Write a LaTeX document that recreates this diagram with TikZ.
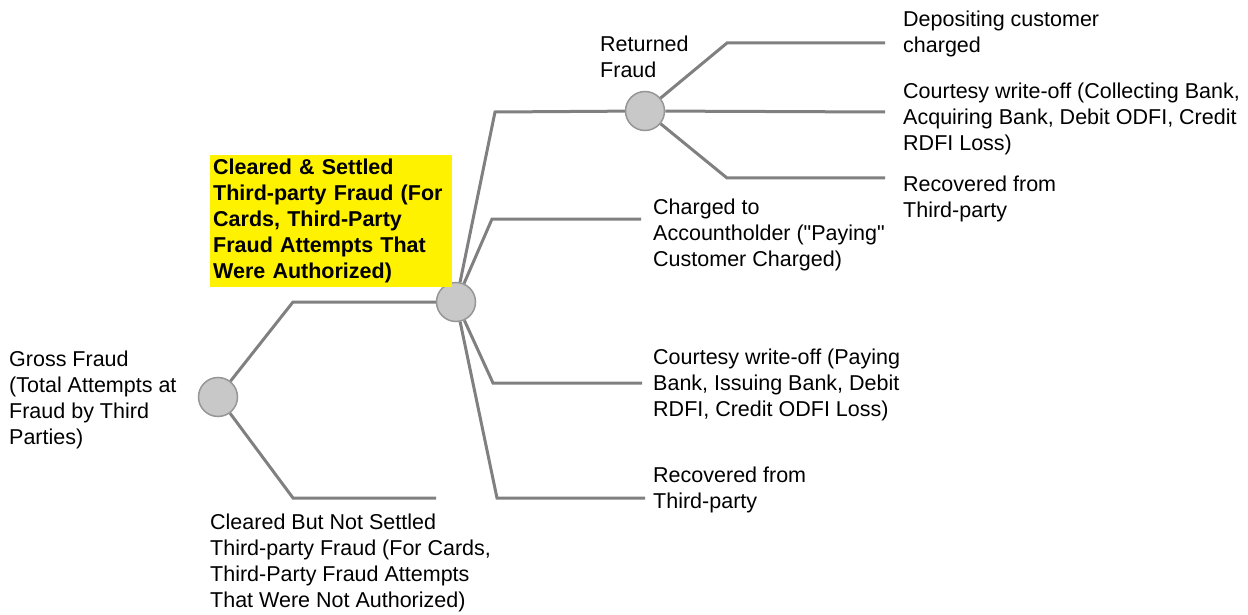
\documentclass[tikz,border=0pt]{standalone}
\usepackage{fontspec}
\setmainfont{Liberation Sans}
\usepackage{tikz}
\usetikzlibrary{positioning,calc}
\definecolor{linegray}{RGB}{128,128,128}
\definecolor{chancefill}{RGB}{200,200,200}
\definecolor{chancedraw}{RGB}{150,150,150}
\tikzset{
  branch/.style={draw=linegray,line width=3pt},
  chance/.style={circle,draw=chancedraw,fill=chancefill,line width=1.5pt,minimum size=39pt,inner sep=0pt},
  leaf/.style={anchor=north west,inner sep=0pt,align=left,font=\fontsize{21.5}{26}\selectfont},
  hilite/.style={leaf,fill=yellow,inner xsep=3pt,text width=236pt,minimum height=132pt,
    font=\fontsize{21.5}{26}\selectfont\bfseries}
}
\begin{document}
\begin{tikzpicture}[x=1pt,y=-1pt]
  \useasboundingbox (0,0) rectangle (1248,615);

  \node [chance] (root) at (218,397) {};
  \node [chance] (settled) at (456,302) {};
  \node [chance] (returned) at (645,111) {};

  \node [leaf] (gross) at (9,351) {Gross Fraud\\(Total Attempts at\\Fraud by Third\\Parties)};
  \node [hilite] (settledtxt) at (210,155) {Cleared \& Settled\\Third-party Fraud (For\\Cards, Third-Party\\Fraud Attempts That\\Were Authorized)};
  \node [leaf] (notsettled) at (210,514) {Cleared But Not Settled\\Third-party Fraud (For Cards,\\Third-Party Fraud Attempts\\That Were Not Authorized)};
  \node [leaf] (returnedtxt) at (600,36) {Returned\\Fraud};
  \node [leaf] (charged) at (653,199) {Charged to\\Accountholder (\textquotedbl Paying\textquotedbl\\Customer Charged)};
  \node [leaf] (writeoffpay) at (653,349) {Courtesy write-off (Paying\\Bank, Issuing Bank, Debit\\RDFI, Credit ODFI Loss)};
  \node [leaf] (recovpay) at (653,467) {Recovered from\\Third-party};
  \node [leaf] (depositing) at (903,11) {Depositing customer\\charged};
  \node [leaf] (writeoffcol) at (903,83) {Courtesy write-off (Collecting Bank,\\Acquiring Bank, Debit ODFI, Credit\\RDFI Loss)};
  \node [leaf] (recovcol) at (903,176) {Recovered from\\Third-party};

  \coordinate (notsettledend) at (436,498);
  \coordinate (chargedend) at (641,219);
  \coordinate (writeoffpayend) at (642,383);
  \coordinate (recovpayend) at (645,498);
  \coordinate (depositingend) at (885,43);
  \coordinate (writeoffcolend) at (885,112);
  \coordinate (recovcolend) at (885,178);

  \draw [branch] (root) -- (293,302) -- (settled);
  \draw [branch] (root) -- (293,498) -- (notsettledend);

  \draw [branch] (settled) -- (495,112) -- (returned);
  \draw [branch] (settled) -- (492,219) -- (chargedend);
  \draw [branch] (settled) -- (493,383) -- (writeoffpayend);
  \draw [branch] (settled) -- (497,498) -- (recovpayend);

  \draw [branch] (returned) -- (727,43) -- (depositingend);
  \draw [branch] (returned) -- (writeoffcolend);
  \draw [branch] (returned) -- (727,178) -- (recovcolend);
\end{tikzpicture}
\end{document}
